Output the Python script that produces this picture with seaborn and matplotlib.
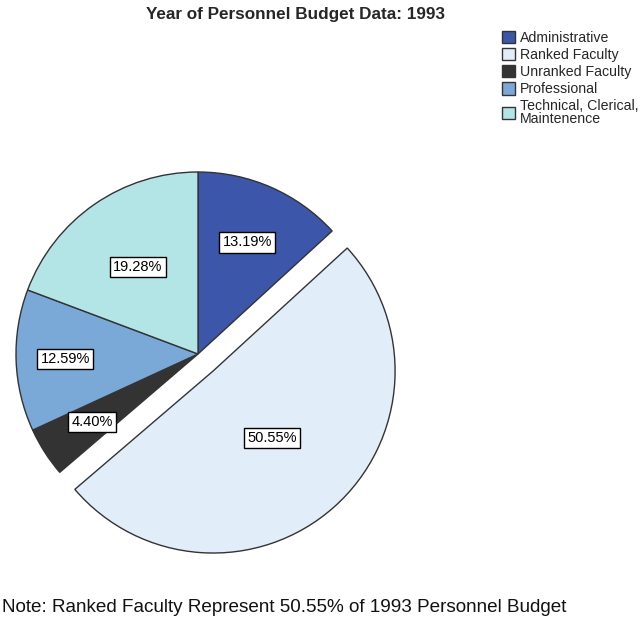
import numpy as np
import matplotlib
matplotlib.use("Agg")
import matplotlib.pyplot as plt
import seaborn as sns
from matplotlib.patches import Patch

sns.set_theme(style="white")
plt.rcParams["font.family"] = ["Liberation Sans", "DejaVu Sans"]

categories = ["Administrative", "Ranked Faculty", "Unranked Faculty",
              "Professional", "Technical, Clerical,\nMaintenence"]
shares = [13.19, 50.55, 4.40, 12.59, 19.28]
pct_labels = ["13.19%", "50.55%", "4.40%", "12.59%", "19.28%"]
explode = [0, 0.125, 0, 0, 0]
colors = ["#3c56a9", "#e1eefa", "#333333", "#7aa8d7", "#b4e5e6"]
label_radius = [0.67, 0.49, 0.69, 0.73, 0.58]

W, H, DPI = 642, 622, 100
cx, cy, R = 198, 354, 182

fig = plt.figure(figsize=(W / DPI, H / DPI), dpi=DPI)
ax = fig.add_axes([0, 0, 1, 1])

wedges, _ = ax.pie(shares, explode=explode, colors=colors, startangle=90,
                   counterclock=False, radius=1.0, frame=True,
                   wedgeprops=dict(edgecolor="#333333", linewidth=1.0))
ax.set_xlim(-cx / R, (W - cx) / R)
ax.set_ylim(-(H - cy) / R, cy / R)
ax.set_aspect("auto")
ax.axis("off")

for w, txt, lr in zip(wedges, pct_labels, label_radius):
    ang = np.deg2rad((w.theta1 + w.theta2) / 2)
    x0, y0 = w.center
    ax.text(x0 + lr * np.cos(ang), y0 + lr * np.sin(ang), txt,
            ha="center", va="center", fontsize=10.5, color="black",
            bbox=dict(boxstyle="square,pad=0.22", facecolor="white",
                      edgecolor="black", linewidth=1.0))

fig.text(296 / W, 1 - 15 / H, "Year of Personnel Budget Data: 1993",
         ha="center", va="center", fontsize=12.3, fontweight="bold")

fig.text(284 / W, 1 - 607 / H,
         "Note: Ranked Faculty Represent 50.55% of 1993 Personnel Budget",
         ha="center", va="center", fontsize=13.6, color="#111111")

handles = [Patch(facecolor=c, edgecolor="#333333", linewidth=1.0) for c in colors]
leg = fig.legend(handles, categories, loc="upper left",
                 bbox_to_anchor=(502 / W, 1 - 31 / H), frameon=False,
                 fontsize=10.2, handlelength=0.95, handleheight=0.95,
                 handletextpad=0.3, labelspacing=0.22, borderpad=0,
                 borderaxespad=0)
for t in leg.get_texts():
    t.set_linespacing(0.85)

fig.savefig("out.png", dpi=DPI)
